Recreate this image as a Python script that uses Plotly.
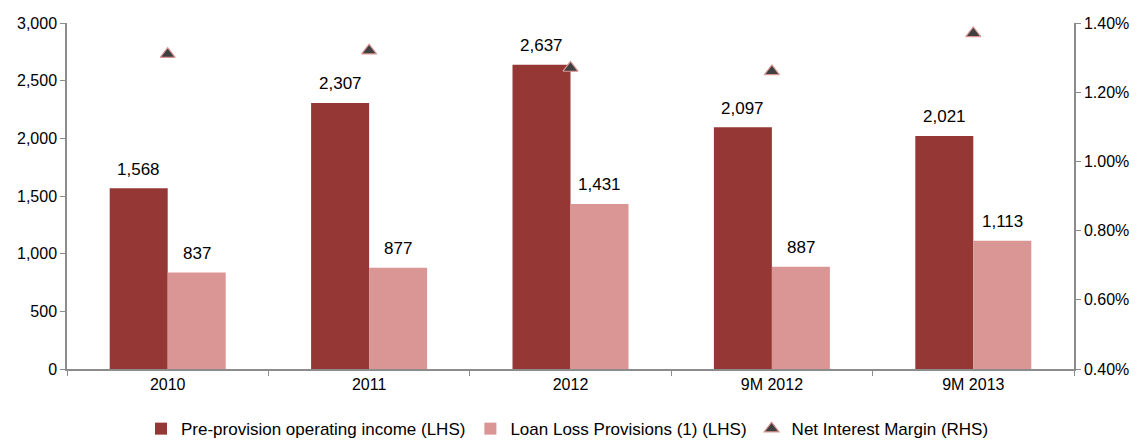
import plotly.graph_objects as go

# Figures by period
periods = ["2010", "2011", "2012", "9M 2012", "9M 2013"]
pre_provision_income = [1568, 2307, 2637, 2097, 2021]
loan_loss_provisions = [837, 877, 1431, 887, 1113]
net_interest_margin = [1.31, 1.32, 1.27, 1.26, 1.37]  # percent

DARK_RED = "#953735"
LIGHT_RED = "#D99694"
MARKER_FILL = "#404040"
AXIS_GREY = "#8C8C8C"
FONT = "Liberation Sans, Arial, sans-serif"

fig = go.Figure()

fig.add_trace(go.Bar(
    x=periods, y=pre_provision_income,
    name="Pre-provision operating income (LHS)",
    marker=dict(color=DARK_RED, line=dict(width=0)),
    yaxis="y",
))
fig.add_trace(go.Bar(
    x=periods, y=loan_loss_provisions,
    name="Loan Loss Provisions (1) (LHS)",
    marker=dict(color=LIGHT_RED, line=dict(width=0)),
    yaxis="y",
))
fig.add_trace(go.Scatter(
    x=periods, y=net_interest_margin,
    name="Net Interest Margin (RHS)",
    mode="markers",
    marker=dict(symbol="triangle-up", size=13, color=MARKER_FILL,
                line=dict(color=LIGHT_RED, width=1.2)),
    yaxis="y2",
    cliponaxis=False,
))

# Value labels above each bar
bargap = 0.424
half = (1 - bargap) / 4
annotations = []
for i, (a, b) in enumerate(zip(pre_provision_income, loan_loss_provisions)):
    for xpos, val in ((i - half, a), (i + half, b)):
        annotations.append(dict(
            x=xpos, y=val, xref="x", yref="y",
            text=f"{val:,}", showarrow=False,
            yanchor="middle", yshift=19,
            font=dict(family=FONT, size=17, color="#000000"),
        ))

fig.update_layout(
    width=1140, height=441,
    margin=dict(l=67, r=66, t=23, b=72),
    paper_bgcolor="white", plot_bgcolor="white",
    font=dict(family=FONT, size=16, color="#000000"),
    barmode="group", bargap=bargap, bargroupgap=0,
    showlegend=True,
    legend=dict(orientation="h", x=0.497, xanchor="center", xref="paper",
                y=0.027, yanchor="middle", yref="container",
                font=dict(family=FONT, size=17, color="#000000"),
                itemwidth=30, traceorder="normal"),
    xaxis=dict(
        type="category", showline=True, linecolor=AXIS_GREY, linewidth=1.5,
        ticks="outside", tickson="boundaries", ticklen=5, tickcolor=AXIS_GREY,
        showgrid=False, zeroline=False,
    ),
    yaxis=dict(
        range=[0, 3000], dtick=500, tickformat=",",
        showline=True, linecolor=AXIS_GREY, linewidth=1.5,
        ticks="outside", ticklen=5, tickcolor=AXIS_GREY,
        showgrid=False, zeroline=False,
    ),
    yaxis2=dict(
        overlaying="y", side="right",
        range=[0.4, 1.4], dtick=0.2, tickformat=".2f", ticksuffix="%",
        showline=True, linecolor=AXIS_GREY, linewidth=1.5,
        ticks="outside", ticklen=5, tickcolor=AXIS_GREY,
        showgrid=False, zeroline=False,
    ),
    annotations=annotations,
)

fig.write_html("out.html")
